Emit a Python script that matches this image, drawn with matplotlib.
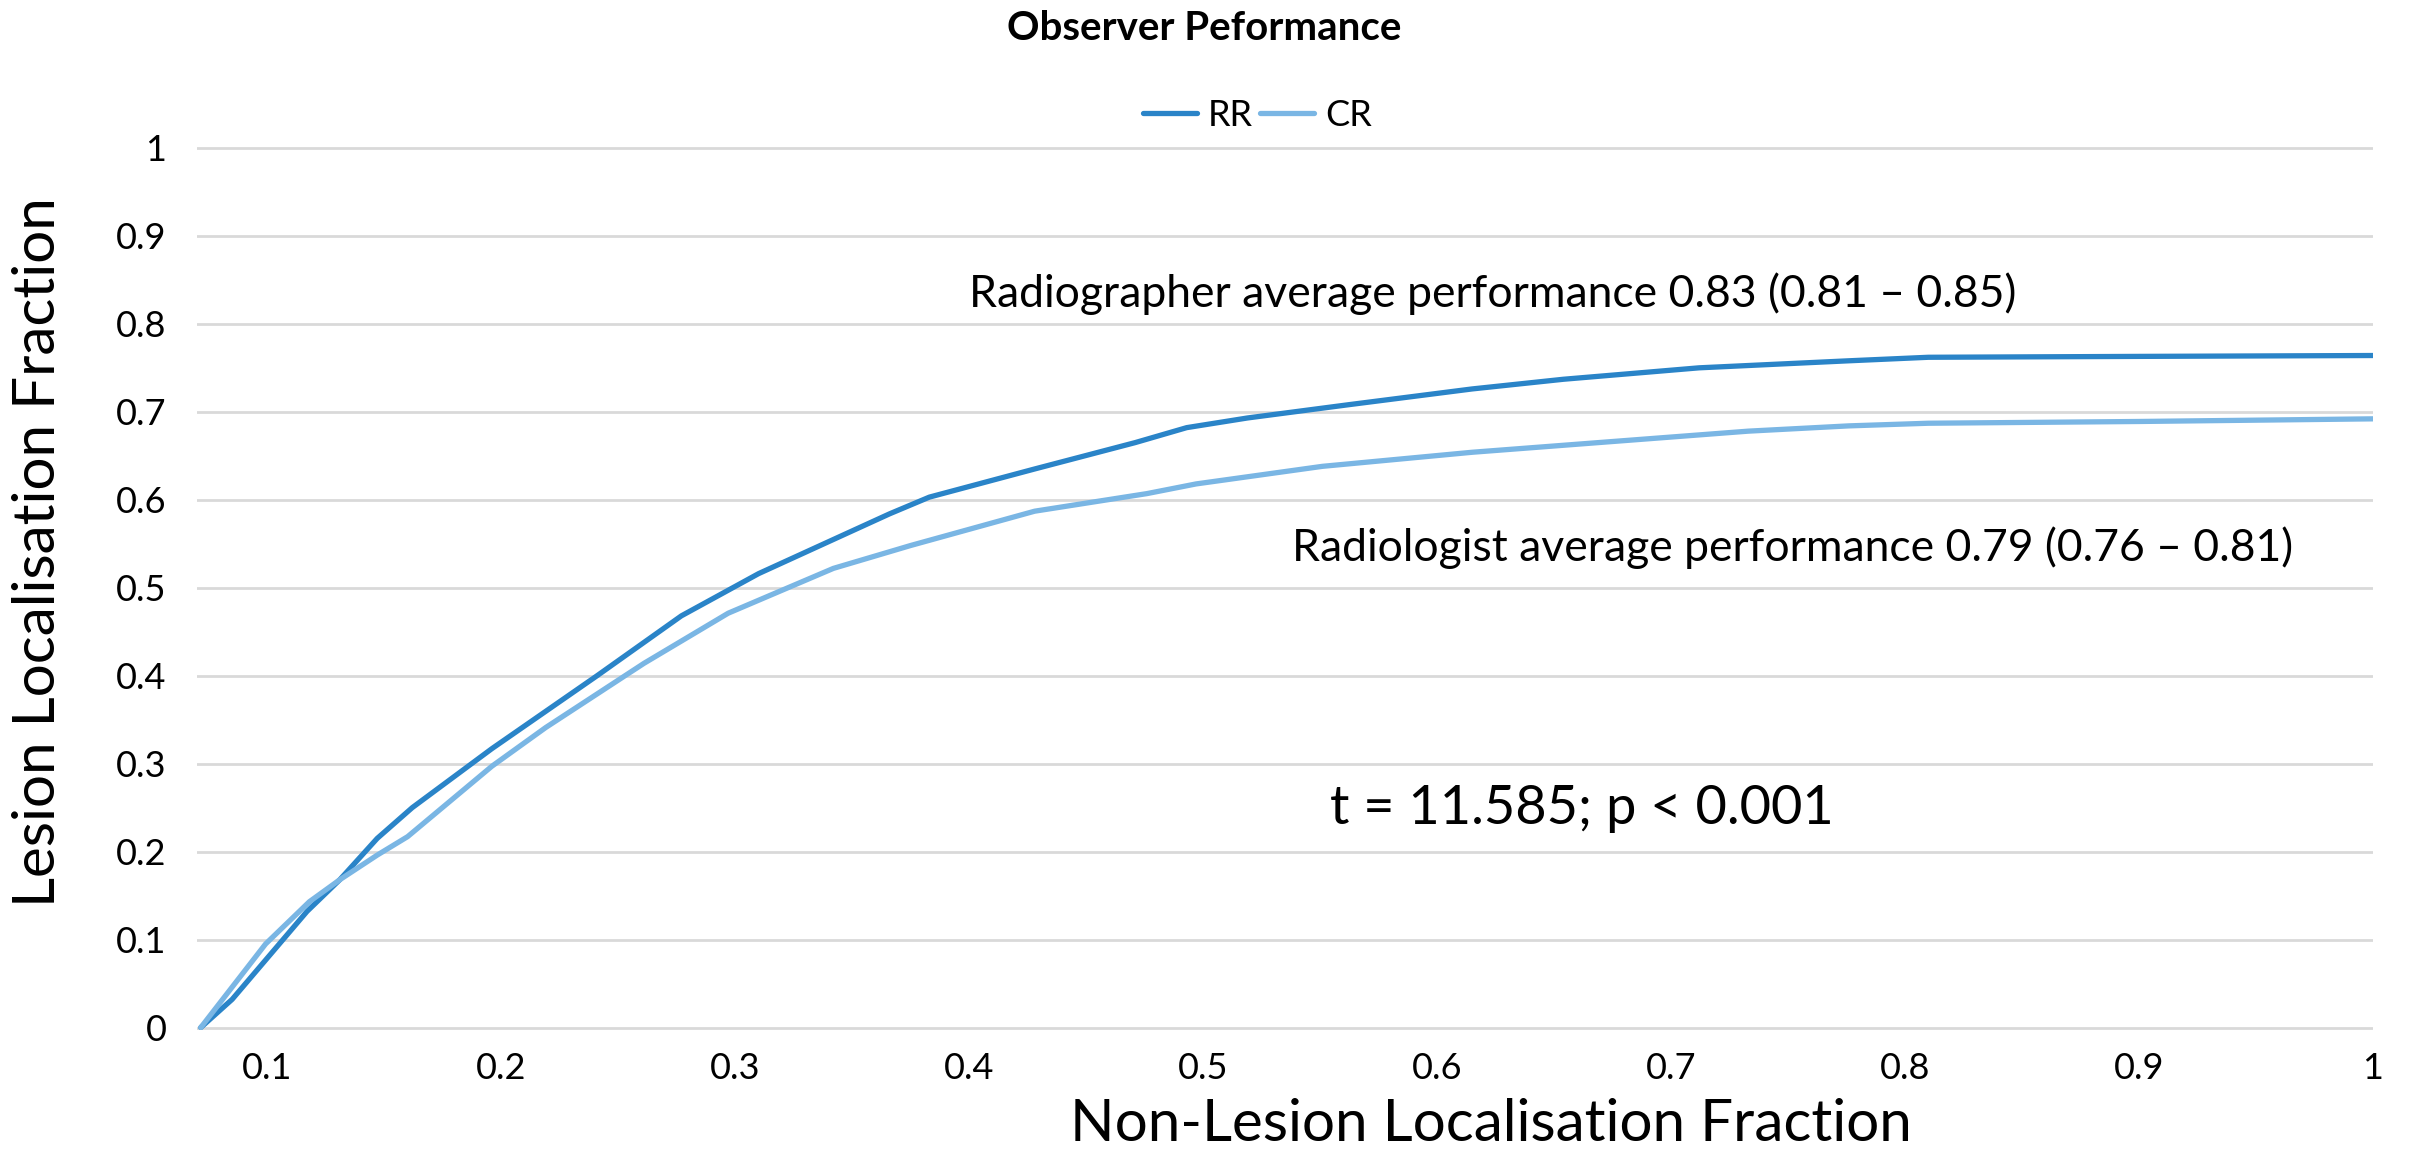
import matplotlib
matplotlib.use("Agg")
import matplotlib.pyplot as plt

plt.rcParams['font.family'] = ['Lato', 'DejaVu Sans']

# data
rr_x = [0.0716, 0.085, 0.117, 0.131, 0.147, 0.162, 0.196, 0.241, 0.277, 0.310, 0.366, 0.383,
        0.428, 0.471, 0.493, 0.519, 0.562, 0.615, 0.654, 0.712, 0.776, 0.810, 0.90, 1.0]
rr_y = [0, 0.032, 0.132, 0.168, 0.215, 0.250, 0.317, 0.400, 0.468, 0.516, 0.584, 0.603,
        0.635, 0.665, 0.682, 0.693, 0.708, 0.726, 0.737, 0.750, 0.758, 0.762, 0.763, 0.764]
cr_x = [0.0716, 0.0993, 0.118, 0.131, 0.147, 0.160, 0.196, 0.219, 0.261, 0.297, 0.342, 0.375,
        0.428, 0.476, 0.497, 0.551, 0.615, 0.669, 0.733, 0.776, 0.810, 0.90, 1.0]
cr_y = [0, 0.095, 0.143, 0.168, 0.196, 0.217, 0.297, 0.341, 0.414, 0.471, 0.522, 0.548,
        0.587, 0.607, 0.618, 0.638, 0.654, 0.665, 0.678, 0.684, 0.687, 0.689, 0.692]

x_ticks = [0.1, 0.2, 0.3, 0.4, 0.5, 0.6, 0.7, 0.8, 0.9, 1]
y_ticks = [0, 0.1, 0.2, 0.3, 0.4, 0.5, 0.6, 0.7, 0.8, 0.9, 1]

fig = plt.figure(figsize=(24.09, 11.51), dpi=100)
ax = fig.add_axes([0.0818, 0.105, 0.985 - 0.0818, 0.873 - 0.105])

ax.plot(rr_x, rr_y, color='#2a84c8', lw=3.8, label='RR', solid_capstyle='round')
ax.plot(cr_x, cr_y, color='#7ab6e4', lw=3.8, label='CR', solid_capstyle='round')

ax.set_xlim(0.07, 1.0)
ax.set_xticks(x_ticks)
ax.set_xticklabels([f"{v:g}" for v in x_ticks])
ax.set_yticks(y_ticks)
ax.set_yticklabels([f"{v:g}" for v in y_ticks])
ax.yaxis.grid(True, color='#d9d9d9', lw=2)
ax.set_axisbelow(True)
for s in ax.spines.values():
    s.set_visible(False)
ax.tick_params(length=0, labelsize=26)
ax.tick_params(axis='y', pad=22)
ax.tick_params(axis='x', pad=16)
ax.set_ylim(-0.003, 1.002)

fig.text(0.5, 0.975, 'Observer Peformance', ha='center', va='center',
         fontsize=29, fontweight='bold')
fig.legend(loc='center', bbox_to_anchor=(0.522, 0.9), ncol=2, frameon=False,
           fontsize=26, handlelength=1.5, handletextpad=0.3, columnspacing=0.2)

fig.text(0.619, 0.023, 'Non-Lesion Localisation Fraction', ha='center', va='center',
         fontsize=42)
fig.text(0.016, 0.52, 'Lesion Localisation Fraction', ha='center', va='center',
         fontsize=42, rotation=90)

ax.text(0.624, 0.834, 'Radiographer average performance 0.83 (0.81 \u2013 0.85)',
        ha='center', va='center', fontsize=32)
ax.text(0.752, 0.545, 'Radiologist average performance 0.79 (0.76 \u2013 0.81)',
        ha='center', va='center', fontsize=32)
ax.text(0.662, 0.249, 't = 11.585; p < 0.001', ha='center', va='center', fontsize=39)

fig.savefig('out.png', dpi=100)
